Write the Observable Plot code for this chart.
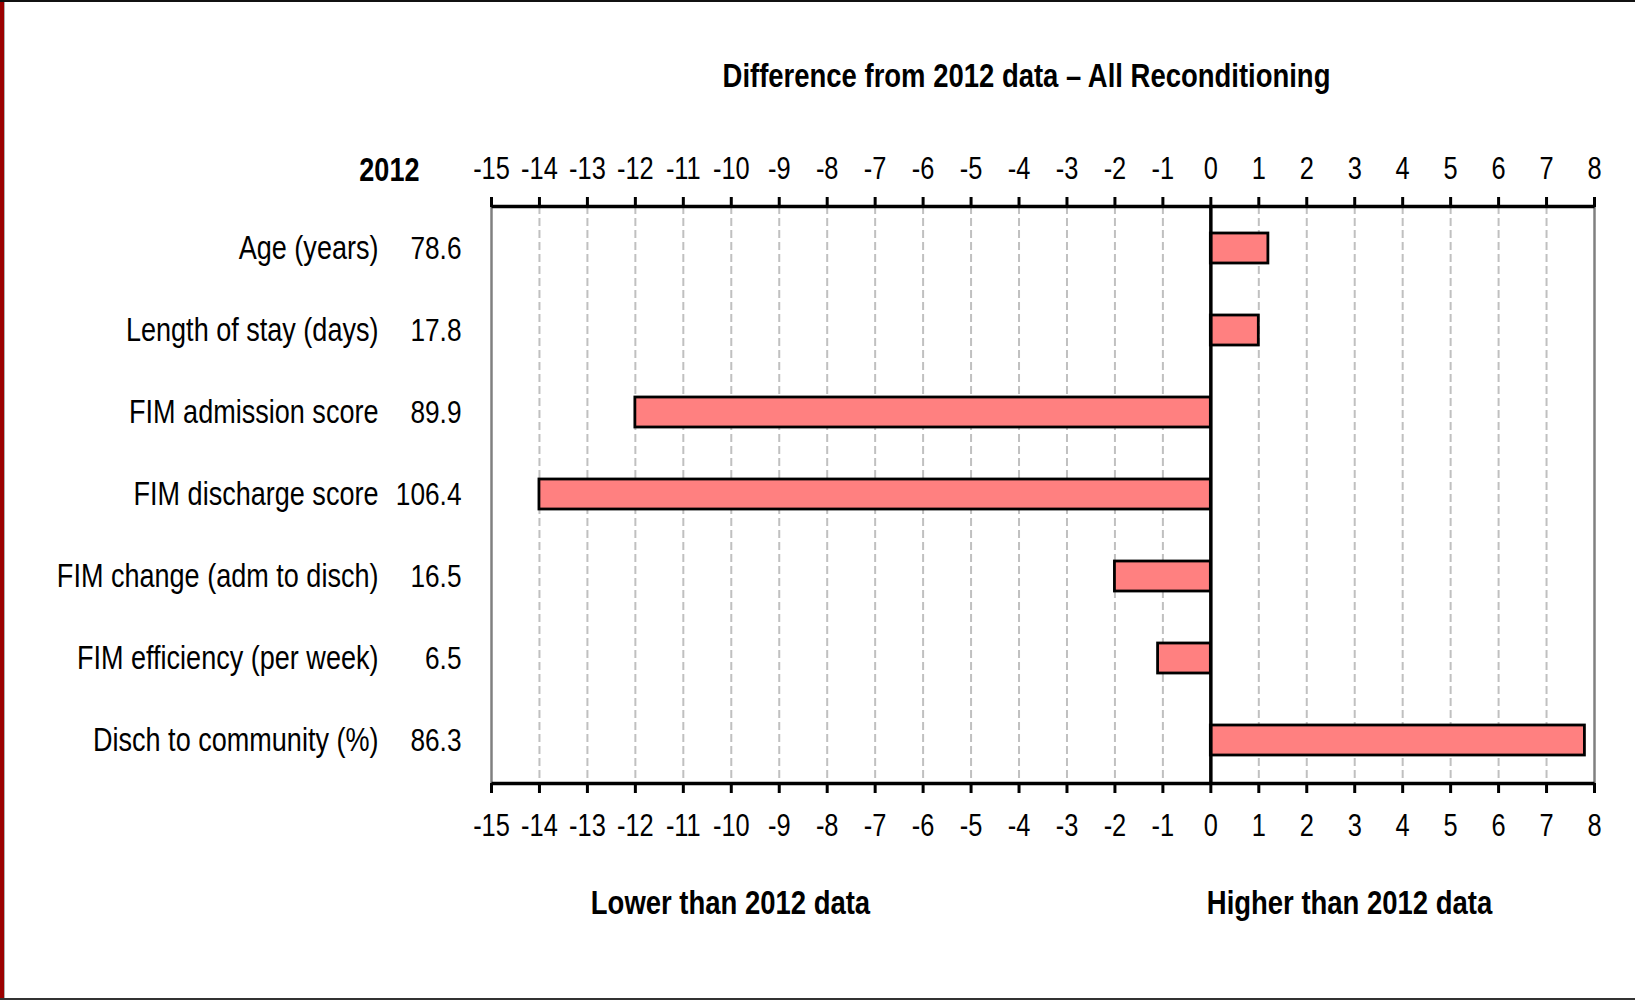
<!DOCTYPE html>
<html>
<head>
<meta charset="utf-8">
<script src="https://cdn.jsdelivr.net/npm/d3@7"></script>
<script src="https://cdn.jsdelivr.net/npm/@observablehq/plot@0.6"></script>
<style>
  html, body { margin: 0; padding: 0; background: white; }
  #wrap { position: relative; width: 1635px; height: 1000px; overflow: hidden; background: white; }
  #wrap svg { position: absolute; left: 0; top: 0; }
  .b { position: absolute; }
</style>
</head>
<body>
<div id="wrap">
  <div class="b" style="left:0;top:0;width:4px;height:1000px;background:#9b0000;z-index:2"></div>
  <div class="b" style="left:4px;top:0;width:1px;height:1000px;background:#b0b0b0;z-index:2"></div>
  <div class="b" style="left:0;top:0;width:1635px;height:2px;background:#111;z-index:2"></div>
  <div class="b" style="left:0;top:998px;width:1635px;height:2px;background:#333;z-index:2"></div>
</div>
<script>
const categories = ["Age (years)", "Length of stay (days)", "FIM admission score", "FIM discharge score", "FIM change (adm to disch)", "FIM efficiency (per week)", "Disch to community (%)"];
const values2012 = [78.6, 17.8, 89.9, 106.4, 16.5, 6.5, 86.3];
const differences = [1.2, 1.0, -12.0, -14.0, -2.0, -1.1, 7.8];
const xTicks = [-15, -14, -13, -12, -11, -10, -9, -8, -7, -6, -5, -4, -3, -2, -1, 0, 1, 2, 3, 4, 5, 6, 7, 8];
const titleText = "Difference from 2012 data \u2013 All Reconditioning";
const headerText = "2012";
const lowerText = "Lower than 2012 data";
const higherText = "Higher than 2012 data";

const data = categories.map((name, i) => ({name, value: values2012[i], diff: differences[i]}));
const gridTicks = xTicks.filter(t => t !== 0 && t !== xTicks[0] && t !== xTicks[xTicks.length - 1]);

const W = 1635, H = 1000;
const mL = 491, mR = 41, mT = 206, mB = 217;
const innerW = W - mL - mR, innerH = H - mT - mB;
const font = "'Liberation Sans', Arial, sans-serif";

const chart = Plot.plot({
  width: W,
  height: H,
  marginTop: mT,
  marginBottom: mB,
  marginLeft: mL,
  marginRight: mR,
  style: {fontFamily: font, fontSize: "31px", color: "black", background: "white", overflow: "visible"},
  x: {domain: [xTicks[0], xTicks[xTicks.length - 1]], label: null},
  y: {domain: categories, paddingInner: 0.63, paddingOuter: 0.315, label: null},
  marks: [
    Plot.ruleX(gridTicks, {stroke: "#c0c0c0", strokeWidth: 2, strokeDasharray: "8,4", strokeOpacity: 1}),
    Plot.barX(data, {x: "diff", y: "name", fill: "#ff8080", stroke: "black", strokeWidth: 2.8}),
    Plot.ruleX([0], {stroke: "black", strokeWidth: 3.5}),
    Plot.ruleX([xTicks[0], xTicks[xTicks.length - 1]], {stroke: "#808080", strokeWidth: 2.5}),
    Plot.frame({stroke: "black", strokeWidth: 3.5, strokeDasharray: `${innerW},${innerH}`}),
    Plot.axisX({anchor: "top", ticks: xTicks, tickSize: 10, tickPadding: 18, strokeWidth: 3, fontSize: 31, tickFormat: d => String(d)}),
    Plot.axisX({anchor: "bottom", ticks: xTicks, tickSize: 10, tickPadding: 20, strokeWidth: 3, fontSize: 31, tickFormat: d => String(d)}),
    Plot.axisY({anchor: "left", tickSize: 0, tickPadding: 113, fontSize: 33}),
    Plot.text(data, {y: "name", text: d => d3.format(".1f")(d.value), frameAnchor: "left", textAnchor: "end", dx: -30, fontSize: 32}),
    Plot.text([headerText], {text: d => d, frameAnchor: "top-left", textAnchor: "end", lineAnchor: "bottom", dx: 419 - mL, dy: -26, fontWeight: "bold", fontSize: 33}),
    Plot.text([titleText], {text: d => d, frameAnchor: "top-left", textAnchor: "middle", lineAnchor: "bottom", dx: 1026 - mL, dy: -120, fontWeight: "bold", fontSize: 33.5}),
    Plot.text([lowerText], {text: d => d, frameAnchor: "bottom-left", textAnchor: "middle", lineAnchor: "bottom", dx: 730 - mL, dy: 130, fontWeight: "bold", fontSize: 33.5}),
    Plot.text([higherText], {text: d => d, frameAnchor: "bottom-left", textAnchor: "middle", lineAnchor: "bottom", dx: 1349 - mL, dy: 130, fontWeight: "bold", fontSize: 33.5})
  ]
});

// Emulate Arial Narrow: condense every text horizontally around its anchor point
chart.querySelectorAll("text").forEach(t => {
  const tr = t.getAttribute("transform") || "";
  t.setAttribute("transform", `${tr} scale(0.82,1)`);
});
document.getElementById("wrap").appendChild(chart);
</script>
</body>
</html>
